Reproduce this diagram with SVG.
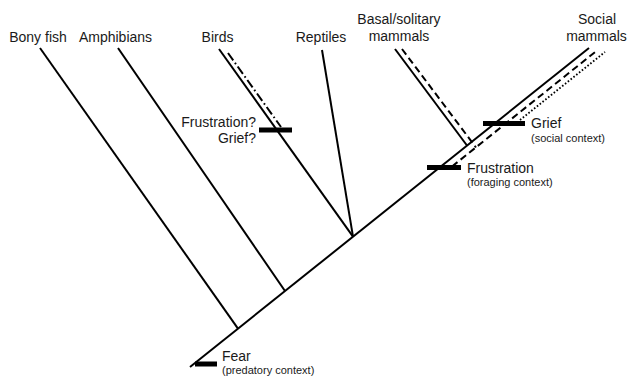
<svg xmlns="http://www.w3.org/2000/svg" width="629" height="377" viewBox="0 0 629 377">
<style>
text{font-family:"Liberation Sans",Arial,sans-serif;fill:#1a1a1a;}
.lbl{font-size:14px;text-anchor:middle;}
.ev{font-size:14px;}
.sub{font-size:11px;}
.rt{font-size:14px;text-anchor:end;}
.br{stroke:#000;stroke-width:2;fill:none;stroke-linecap:butt;}
.dash{stroke:#000;stroke-width:2;fill:none;stroke-dasharray:7 4;}
.dot{stroke:#000;stroke-width:1.8;fill:none;stroke-dasharray:1.6 2;}
.dd{stroke:#000;stroke-width:2;fill:none;stroke-dasharray:9 3 1.6 3;}
.bar{fill:#000;}
</style>
<g id="connectors">
<line class="br" x1="190" y1="367" x2="589" y2="48"/>
<line class="br" x1="40" y1="48" x2="238" y2="328.6"/>
<line class="br" x1="118" y1="48" x2="285" y2="291"/>
<line class="br" x1="219" y1="49" x2="353" y2="236.7"/>
<line class="br" x1="322" y1="50" x2="353" y2="236.7"/>
<line class="br" x1="395" y1="49" x2="467" y2="145.5"/>
<line class="dd" x1="228" y1="53" x2="281" y2="127"/>
<line class="dash" x1="402" y1="49" x2="476" y2="147.5"/>
<line class="dash" x1="452" y1="166.5" x2="597" y2="50.5"/>
<line class="dot" x1="520" y1="120" x2="605" y2="52"/>
</g>
<g id="bony-fish"><text class="lbl" x="38" y="42">Bony fish</text></g>
<g id="amphibians"><text class="lbl" x="115.5" y="42">Amphibians</text></g>
<g id="birds"><text class="lbl" x="217.5" y="42">Birds</text></g>
<g id="reptiles"><text class="lbl" x="321" y="42">Reptiles</text></g>
<g id="basal-mammals"><text class="lbl" x="399" y="24">Basal/solitary</text><text class="lbl" x="399" y="41">mammals</text></g>
<g id="social-mammals"><text class="lbl" x="597" y="24">Social</text><text class="lbl" x="596.5" y="41">mammals</text></g>
<g id="fear"><rect class="bar" x="195" y="361.5" width="22" height="5"/><text class="ev" x="222" y="361">Fear</text><text class="sub" x="222" y="374">(predatory context)</text></g>
<g id="bird-emotions"><rect class="bar" x="259" y="127.5" width="33" height="5"/><text class="rt" x="256" y="127">Frustration?</text><text class="rt" x="256" y="143">Grief?</text></g>
<g id="frustration"><rect class="bar" x="427" y="165" width="34" height="5"/><text class="ev" x="467" y="172.5">Frustration</text><text class="sub" x="467" y="186">(foraging context)</text></g>
<g id="grief"><rect class="bar" x="483" y="121" width="42" height="5"/><text class="ev" x="531" y="128">Grief</text><text class="sub" x="531" y="142">(social context)</text></g>
</svg>
